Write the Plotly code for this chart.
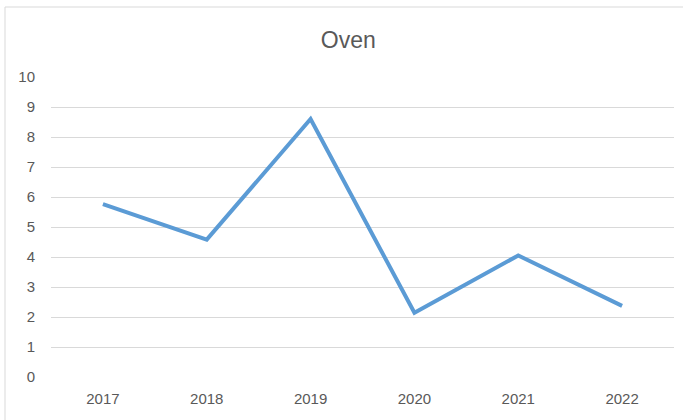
import plotly.graph_objects as go

years = ["2017", "2018", "2019", "2020", "2021", "2022"]
values = [5.76, 4.58, 8.6, 2.14, 4.05, 2.37]
y_ticks = [0, 1, 2, 3, 4, 5, 6, 7, 8, 9, 10]
title_text = "Oven"

fig = go.Figure()
fig.add_trace(go.Scatter(
    x=years, y=values, mode="lines",
    line=dict(color="#5B9BD5", width=4),
    hoverinfo="skip",
))

font_family = "Liberation Sans, Arial, sans-serif"

fig.update_layout(
    width=683, height=420,
    margin=dict(l=51, r=9, t=77, b=43),
    paper_bgcolor="white", plot_bgcolor="white",
    showlegend=False,
    title=dict(text=title_text, x=0.51, xanchor="center", y=0.905, yanchor="middle",
               font=dict(family=font_family, size=23, color="#595959")),
    xaxis=dict(
        type="category", range=[-0.5, 5.5],
        showgrid=False, zeroline=False, showline=False,
        tickfont=dict(family=font_family, size=15, color="#595959"),
        ticks="", ticklabelstandoff=11,
    ),
    yaxis=dict(
        range=[0, 10], tickvals=y_ticks,
        showgrid=True, gridcolor="#D9D9D9", gridwidth=1,
        zeroline=False, showline=False,
        tickfont=dict(family=font_family, size=15, color="#595959"),
        ticks="", ticklabelstandoff=15,
    ),
    shapes=[dict(
        type="rect", xref="paper", yref="paper",
        x0=(5 - 51) / 623, x1=(690 - 51) / 623,
        y0=(377 - 430) / 300, y1=(377 - 7) / 300,
        line=dict(color="#D9D9D9", width=1), fillcolor="rgba(0,0,0,0)", layer="below",
    )],
)

fig.write_html(
    "out.html",
    config={"displayModeBar": False, "staticPlot": True},
    post_script="document.body.style.margin='0';document.body.style.overflow='hidden';",
)
